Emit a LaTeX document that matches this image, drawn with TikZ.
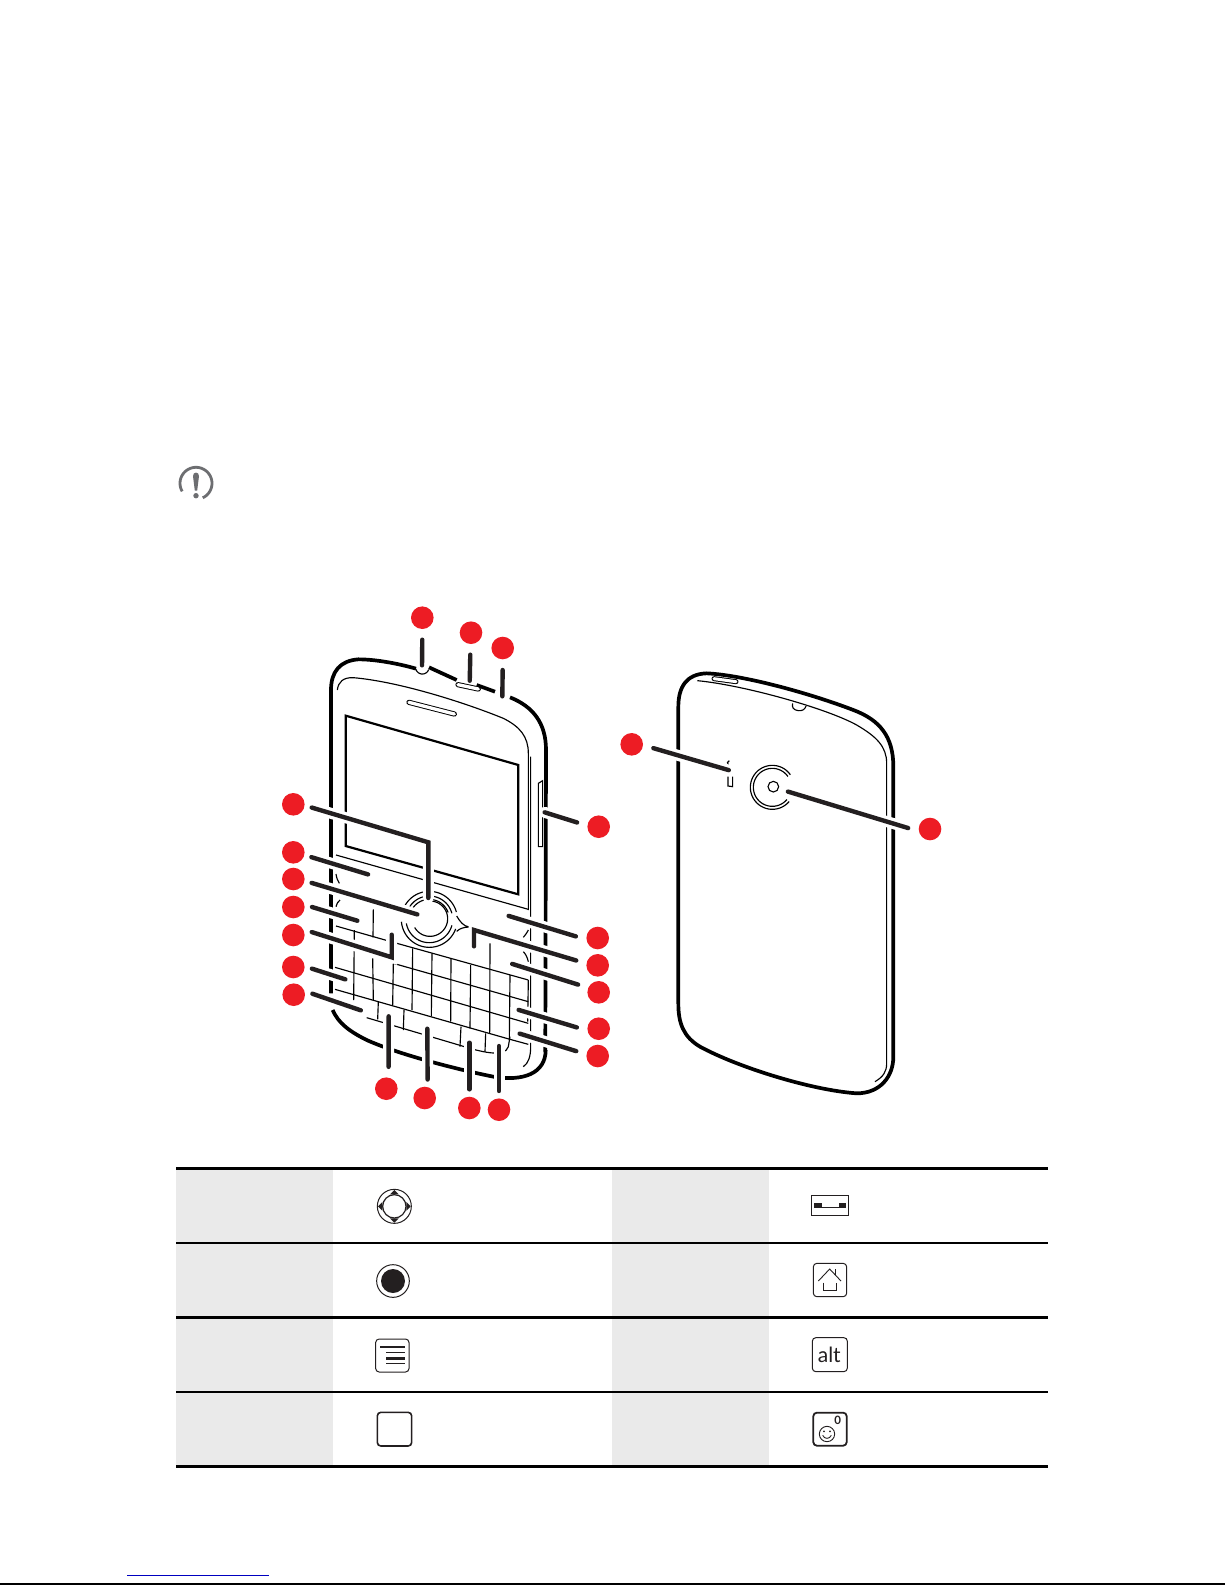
\documentclass[tikz,border=0pt]{standalone}
\usepackage{fontspec}
\newfontfamily\iconfont{Lato}
\definecolor{ink}{HTML}{231F20}
\definecolor{dotred}{HTML}{ED1C24}
\definecolor{band}{HTML}{EAEAEA}
\definecolor{warn}{HTML}{6D6E71}
\definecolor{linkblue}{HTML}{0000C0}
\newcommand{\arcp}[5]{plot[domain=#4:#5,samples=40,variable=\t]({#1+#3*cos(\t)},{#2+#3*sin(\t)})}
\newcommand{\pill}[5]{\draw[line cap=round,line width=#3pt,black] #1 -- #2; \draw[line cap=round,line width=#4pt,white] #1 -- #2;}
\tikzset{
  zf/.style={shift={(260pt,-590pt)},x=.33333pt,y=-.33333pt},
  zk/.style={shift={(260pt,-850pt)},x=.33333pt,y=-.33333pt},
  zb/.style={shift={(610pt,-650pt)},x=.33333pt,y=-.33333pt},
  zl/.style={shift={(170pt,-1160pt)},x=.33333pt,y=-.33333pt},
  zr/.style={shift={(600pt,-1160pt)},x=.33333pt,y=-.33333pt},
  heavy/.style={black,line width=3.7pt,line join=round},
  fine/.style={black,line width=1.15pt},
  rule/.style={black,line width=#1pt},
  keycap/.style={ink,line width=#1pt,rounded corners=3.5pt},
  marker/.style={circle,fill=dotred,draw=none,minimum size=22.6pt,inner sep=0pt,outer sep=7.4pt},
  lead/.style={ink,line width=4.4pt,line cap=round,line join=miter,shorten >=2pt,
    preaction={draw=white,line width=11pt,line cap=round}},
  far/.style={shorten <=3.3pt},
}
\begin{document}
\begin{tikzpicture}[x=1pt,y=-1pt]
\useasboundingbox (0,0) rectangle (1225,1585);
\fill[white] (0,0) rectangle (1225,1585);

% warning icon
\draw[warn,line width=2.8pt] \arcp{196}{483.3}{16}{150}{425};
\fill[warn] (193,476) .. controls (193,471.5) and (199,471.5) .. (199,476) -- (197.2,490.5) -- (194.8,490.5) -- cycle;
\fill[warn] (196,495.7) circle[radius=2.7];

% front phone
\begin{scope}[zf]
\draw[heavy] (213,1210) -- (213,300) .. controls (213,245) and (240,212) .. (295,208) .. controls (350,208) and (420,222) .. (468,236);
\draw[fine] \arcp{487}{232}{20}{20}{165};
\draw[heavy] (507,232) -- (590,270);
\draw[heavy] (650,285) -- (705,305);
\draw[heavy] (750,322) .. controls (820,350) and (858,400) .. (858,480) -- (856,1335) -- (856,1385);
\draw[heavy] (218,1260) .. controls (235,1300) and (270,1325) .. (320,1350) .. controls (420,1395) and (600,1440) .. (700,1460) .. controls (790,1475) and (857,1450) .. (857,1380);
\pill{(447,337)}{(583,372)}{5.2}{3.3}
\draw[fine] (228,795) -- (228,310) .. controls (228,270) and (240,250) .. (270,247) .. controls (400,255) and (620,320) .. (740,378) .. controls (790,405) and (820,440) .. (820,500) -- (820,1400) .. controls (820,1430) and (800,1450) .. (750,1450);
\draw[fine] (232,300) .. controls (235,275) and (250,262) .. (280,263) .. controls (420,275) and (620,340) .. (730,385) .. controls (780,410) and (805,440) .. (805,490) -- (805,960);
\draw[fine] (812,500) -- (812,1370) .. controls (812,1400) and (805,1420) .. (790,1430);
\draw[black,line width=2.2pt,line join=miter] (257,377) -- (775,525) -- (775,913) -- (257,768) -- cycle;
\draw[fine] (228,795) -- (805,958);
\draw[black,line width=1.1pt,fill=white] (835,580) -- (848,572) -- (848,770) -- (835,770) -- cycle;
\end{scope}

% keyboard and joystick of the front phone
\begin{scope}[zk]
\draw[fine] (228,228) -- (400,277) -- (805,390);
\draw[fine] (400,340) -- (805,455);
\draw[fine] (225,352) -- (805,520);
\draw[fine] (225,418) -- (750,568) -- (805,583);
\draw[fine] (320,503) -- (600,586) .. controls (660,605) and (735,625) .. (745,590) -- (750,560);
\foreach \xa/\ya/\xb/\yb in {283/240/281/450,340/178/339/262,338/325/340/450,400/340/398/465,458/295/456/480,516/310/514/498,573/325/572/515,632/345/630/535,690/280/689/550,750/375/748/570,805/390/803/515,355/455/353/508,432/480/430/540,603/530/600/590,677/550/675/605}
  \draw[fine] (\xa,\ya) -- (\xb,\yb);
\draw[fine] (228,72) .. controls (230,85) and (233,92) .. (238,100);
\draw[fine] (240,150) .. controls (233,155) and (230,162) .. (228,170);
\draw[fine] (805,240) .. controls (800,250) and (795,256) .. (790,262);
\draw[fine] (790,305) .. controls (797,312) and (802,322) .. (805,335);
\draw[fine] \arcp{508}{208}{84}{195}{345};
\draw[fine] \arcp{508}{208}{84}{20}{175};
\draw[fine] \arcp{508}{208}{70}{195}{345};
\draw[fine] \arcp{508}{208}{70}{15}{170};
\draw[fine] \arcp{508}{208}{60}{195}{340};
\draw[fine] \arcp{510}{206}{53}{-90}{150};
\draw[fine] (590,198) .. controls (600,215) and (610,228) .. (627,231) .. controls (610,232) and (600,235) .. (590,244);
\end{scope}

% back phone
\begin{scope}[zb]
\draw[heavy] (205,1060) -- (205,170) .. controls (205,110) and (230,72) .. (290,70) .. controls (400,75) and (600,130) .. (730,180) .. controls (810,210) and (850,260) .. (850,350) -- (850,1220) .. controls (850,1280) and (810,1330) .. (740,1330) .. controls (600,1320) and (380,1250) .. (270,1190) .. controls (220,1160) and (205,1120) .. (205,1060) -- cycle;
\draw[fine] (262,92) .. controls (400,105) and (650,175) .. (740,225) .. controls (800,260) and (830,290) .. (830,340) -- (830,1240) .. controls (830,1265) and (820,1280) .. (795,1295);
\pill{(312,86)}{(378,95)}{5}{3}
\pill{(410,111)}{(472,124)}{5}{3}
\draw[fine] (548,160) .. controls (545,172) and (550,180) .. (565,182) .. controls (578,183) and (585,178) .. (588,168);
\draw[fine] (355,345) .. controls (350,340) and (352,334) .. (358,332);
\draw[fine] (354,380) -- (354,408) -- (368,410) -- (368,380);
\draw[black,line width=1.1pt] (490,410) circle[radius=16];
\draw[fine] \arcp{487}{412}{66}{40}{325};
\draw[fine] \arcp{487}{412}{57}{40}{325};
\end{scope}

% table
\fill[band] (176,1168) rectangle (333,1466);
\fill[band] (612,1168) rectangle (769,1466);
\draw[rule=3] (176,1168.3) -- (1048,1168.3);
\draw[rule=2] (176,1242.7) -- (1048,1242.7);
\draw[rule=3] (176,1317.3) -- (1048,1317.3);
\draw[rule=2] (176,1391.7) -- (1048,1391.7);
\draw[rule=3] (176,1466.3) -- (1048,1466.3);

% key icons, left column
\begin{scope}[zl]
\draw[ink,line width=1pt] (673,139) circle[radius=51];
\draw[ink,line width=1.2pt] (673,139) circle[radius=35];
\fill[ink] (673,90) -- (660,103) -- (686,103) -- cycle;
\fill[ink] (673,188) -- (660,175) -- (686,175) -- cycle;
\fill[ink] (624,139) -- (637,126) -- (637,152) -- cycle;
\fill[ink] (722,139) -- (709,126) -- (709,152) -- cycle;
\draw[ink,line width=1pt] (669,363) circle[radius=49];
\fill[ink] (669,363) circle[radius=36];
\draw[keycap=1] (617,537) rectangle (717,636);
\draw[ink,line width=1.2pt] (630,561) -- (705,561);
\draw[ink,line width=1.2pt] (648,578) -- (705,578);
\draw[ink,line width=2.4pt] (648,595) -- (705,595);
\draw[ink,line width=1.2pt] (648,611) -- (705,611);
\draw[keycap=1.6] (622,757) rectangle (725,858);
\end{scope}

% key icons, right column
\begin{scope}[zr]
\draw[ink,line width=1pt] (634,107) rectangle (746,166);
\draw[ink,line width=1.6pt] (634,107) -- (746,107);
\fill[ink] (643,128) rectangle (665,143);
\fill[ink] (717,128) rectangle (737,143);
\draw[ink,line width=.9pt] (665,143) -- (717,143);
\draw[keycap=1] (640,310) rectangle (740,410);
\draw[ink,line width=.9pt] (655,363) -- (689,327) -- (723,363);
\draw[ink,line width=.9pt] (706,327) -- (706,345);
\draw[ink,line width=.9pt] (670,368) -- (670,390) -- (710,390) -- (710,368);
\draw[keycap=1] (637,533) rectangle (742,635);
\draw[keycap=1.8] (640,758) rectangle (740,857);
\draw[ink,line width=.9pt] (681,822) circle[radius=23];
\fill[ink] (672,814) circle[radius=3];
\fill[ink] (690,814) circle[radius=3];
\draw[ink,line width=.9pt] (668,826) .. controls (674,838) and (688,838) .. (694,826);
\end{scope}
\node[ink,inner sep=0pt] (alticon) at (829.3,1355) {\iconfont\fontsize{21}{21}\selectfont alt};
\node[ink,inner sep=0pt] (zeroicon) at (837.8,1420.7) {\iconfont\bfseries\fontsize{11.5}{11.5}\selectfont 0};

% footer
\draw[linkblue,line width=1pt] (127,1575) -- (269,1575);
\draw[black,line width=1.5pt] (0,1584) -- (1225,1584);

% callout markers
\node[marker] (t1) at (422.3,617.7) {};
\node[marker] (t2) at (471,632.7) {};
\node[marker] (t3) at (502.7,648) {};
\node[marker] (l1) at (293.3,804.3) {};
\node[marker] (l2) at (293.3,852.3) {};
\node[marker] (l3) at (293.3,879) {};
\node[marker] (l4) at (293.3,907) {};
\node[marker] (l5) at (293.3,935) {};
\node[marker] (l6) at (293.3,967) {};
\node[marker] (l7) at (293.7,994.7) {};
\node[marker] (b1) at (386.3,1088.7) {};
\node[marker] (b2) at (424.7,1098) {};
\node[marker] (b3) at (469.3,1108) {};
\node[marker] (b4) at (499,1109.7) {};
\node[marker] (vol) at (598.7,826.7) {};
\node[marker] (r1) at (597.7,938) {};
\node[marker] (r2) at (597.7,965.3) {};
\node[marker] (r3) at (598.7,992.3) {};
\node[marker] (r4) at (598.7,1028.7) {};
\node[marker] (r5) at (597.7,1056) {};
\node[marker] (k1) at (631.7,744.3) {};
\node[marker] (k2) at (930,829) {};

% free ends of the connectors
\coordinate (et1) at (422,667.3);
\coordinate (et2) at (469.7,682.7);
\coordinate (et3) at (502.3,698.3);
\coordinate (cl1) at (428.3,842.3);
\coordinate (el1) at (428.3,900);
\coordinate (el2) at (370,875);
\coordinate (el3) at (419.3,915);
\coordinate (el4) at (359.3,921.3);
\coordinate (cl5) at (391.7,957.3);
\coordinate (el5) at (391.7,932.7);
\coordinate (el6) at (347.3,980);
\coordinate (el7) at (362.7,1011);
\coordinate (eb1) at (388.7,1014.3);
\coordinate (eb2) at (427.3,1026.7);
\coordinate (eb3) at (469.3,1040.7);
\coordinate (eb4) at (499,1044);
\coordinate (evol) at (542.7,811.7);
\coordinate (er1) at (506.7,915.3);
\coordinate (cr2) at (474,930);
\coordinate (er2) at (474,948.3);
\coordinate (er3) at (510.3,963.3);
\coordinate (er4) at (516.7,1009.3);
\coordinate (er5) at (517.7,1033);
\coordinate (ek1) at (730.7,770.7);
\coordinate (ek2) at (786,791);

% connectors
\draw[lead,far] (t1.-90) -- (et1);
\draw[lead,far] (t2.-92) -- (et2);
\draw[lead,far] (t3.-90) -- (et3);
\draw[lead] (l1.-10) -- (cl1) -- (el1);
\draw[lead] (l2.-15) -- (el2);
\draw[lead] (l3.-12) -- (el3);
\draw[lead] (l4.0) -- (el4);
\draw[lead] (l5.9) -- (cl5) -- (el5);
\draw[lead] (l6.-5) -- (el6);
\draw[lead] (l7.3) -- (el7);
\draw[lead,far] (b1.83) -- (eb1);
\draw[lead] (b2.81) -- (eb2);
\draw[lead] (b3.90) -- (eb3);
\draw[lead] (b4.90) -- (eb4);
\draw[lead,far] (vol.170) -- (evol);
\draw[lead,far] (r1.178) -- (er1);
\draw[lead,far] (r2.168) -- (cr2) -- (er2);
\draw[lead,far] (r3.159) -- (er3);
\draw[lead,far] (r4.179) -- (er4);
\draw[lead,far] (r5.168) -- (er5);
\draw[lead,far] (k1.-9) -- (ek1);
\draw[lead,far] (k2.180) -- (ek2);

% top buttons of the front phone, lying over the connector ends
\begin{scope}[zf]
\pill{(594,284)}{(655,297)}{5.2}{3.3}
\pill{(685,325)}{(748,347)}{5.2}{3.3}
\end{scope}
\end{tikzpicture}
\end{document}
